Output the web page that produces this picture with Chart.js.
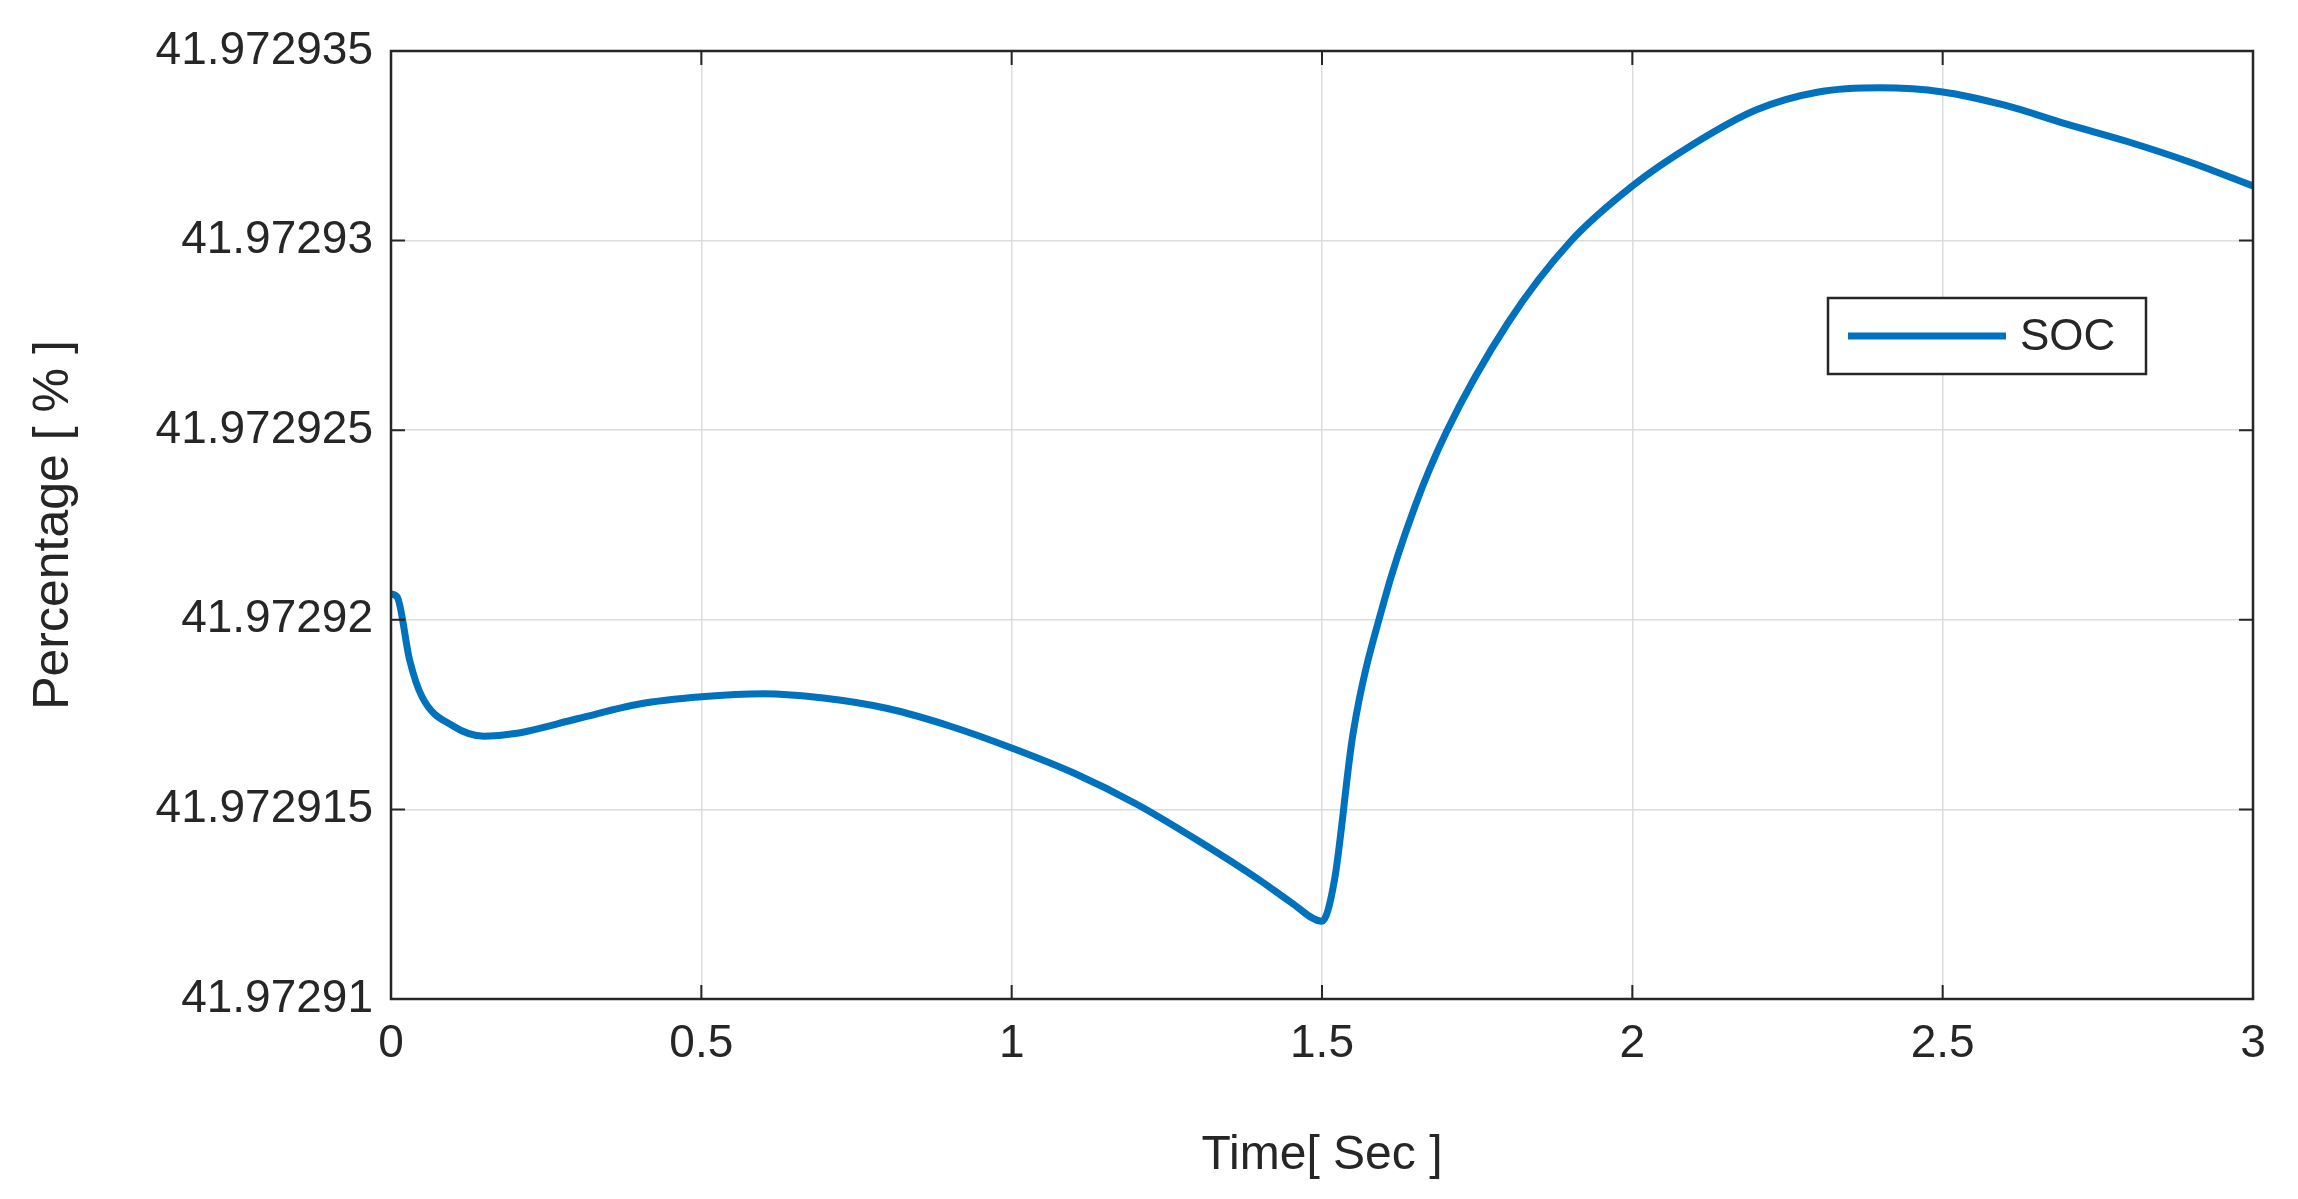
<!DOCTYPE html>
<html><head><meta charset="utf-8">
<script src="https://cdn.jsdelivr.net/npm/chart.js@4"></script>
<style>html,body{margin:0;padding:0;background:#fff;overflow:hidden}</style>
</head><body>
<canvas id="c" width="2298" height="1199" style="width:2298px;height:1199px"></canvas>
<script>
const timeSec = [0,0.01,0.03,0.05,0.1,0.15,0.2,0.3,0.4,0.5,0.6,0.7,0.8,0.9,1.0,1.1,1.2,1.3,1.4,1.45,1.5,1.52,1.55,1.6,1.65,1.7,1.8,1.9,2.0,2.1,2.2,2.3,2.4,2.5,2.6,2.7,2.8,2.9,3.0];
const socValues = [41.97292068,41.9729206,41.97291894,41.97291797,41.9729172,41.97291693,41.972917,41.97291739,41.97291778,41.97291797,41.97291805,41.97291793,41.97291766,41.9729172,41.97291662,41.97291596,41.97291515,41.97291418,41.97291313,41.97291255,41.97291205,41.97291313,41.972917,41.97292049,41.972923,41.97292494,41.97292784,41.97292997,41.97293144,41.97293256,41.97293345,41.97293392,41.97293403,41.97293392,41.97293357,41.97293307,41.9729326,41.97293206,41.97293144];
const yTicks = [41.97291,41.972915,41.97292,41.972925,41.97293,41.972935];
const yTickLabels = ['41.97291','41.972915','41.97292','41.972925','41.97293','41.972935'];
const xTicks = [0,0.5,1,1.5,2,2.5,3];
const xTickLabels = ['0','0.5','1','1.5','2','2.5','3'];
const seriesName = 'SOC';

const FONT = '"Liberation Sans", Arial, sans-serif';
const TXT = '#262626';
const LINE = '#0072BD';

const framePlugin = {
  id:'frame',
  afterDraw(chart){
    const {ctx, chartArea:a} = chart;
    ctx.save();
    ctx.strokeStyle = '#262626'; ctx.lineWidth = 2.5;
    ctx.strokeRect(a.left, a.top, a.right-a.left, a.bottom-a.top);
    // inner ticks
    const ys = chart.scales.y, xs = chart.scales.x;
    ctx.lineWidth = 2;
    yTicks.forEach(v=>{const y=ys.getPixelForValue(v);ctx.beginPath();ctx.moveTo(a.left,y);ctx.lineTo(a.left+14,y);ctx.moveTo(a.right,y);ctx.lineTo(a.right-14,y);ctx.stroke();});
    xTicks.forEach(v=>{const x=xs.getPixelForValue(v);ctx.beginPath();ctx.moveTo(x,a.bottom);ctx.lineTo(x,a.bottom-14);ctx.moveTo(x,a.top);ctx.lineTo(x,a.top+14);ctx.stroke();});
    // legend
    const bx=1828, by=298, bw=318, bh=76;
    ctx.fillStyle='#fff'; ctx.fillRect(bx,by,bw,bh);
    ctx.strokeStyle='#262626'; ctx.lineWidth=2.5; ctx.strokeRect(bx,by,bw,bh);
    ctx.strokeStyle=LINE; ctx.lineWidth=7;
    ctx.beginPath(); ctx.moveTo(bx+20,by+bh/2); ctx.lineTo(bx+178,by+bh/2); ctx.stroke();
    ctx.fillStyle=TXT; ctx.font='44px '+FONT; ctx.textBaseline='middle'; ctx.textAlign='left';
    ctx.fillText(seriesName, bx+192, by+bh/2+2);
    ctx.restore();
  }
};

new Chart(document.getElementById('c'), {
  type:'line',
  data:{datasets:[{label:seriesName, data: timeSec.map((t,i)=>({x:t,y:socValues[i]})), borderColor:LINE, borderWidth:7, pointRadius:0, tension:0.4, cubicInterpolationMode:'monotone', fill:false}]},
  options:{
    responsive:false, animation:false, devicePixelRatio:1,
    layout:{padding:{left:20,right:45,top:51,bottom:10}},
    plugins:{legend:{display:false}, tooltip:{enabled:false}},
    scales:{
      x:{type:'linear', min:0, max:3,
        afterBuildTicks(s){s.ticks = xTicks.map(v=>({value:v}));},
        afterFit(s){s.height=190;},
        grid:{color:'#dcdcdc', lineWidth:1.5, drawTicks:false},
        border:{display:false},
        ticks:{color:TXT, font:{family:FONT,size:46}, padding:18, maxRotation:0, callback:(v)=>xTickLabels[xTicks.indexOf(v)] ?? ''},
        title:{display:true, text:'Time[ Sec ]', color:TXT, font:{family:FONT,size:48}, padding:{top:6}}
      },
      y:{type:'linear', min:41.97291, max:41.972935,
        afterBuildTicks(s){s.ticks = yTicks.map(v=>({value:v}));},
        afterFit(s){s.width=371;},
        grid:{color:'#dcdcdc', lineWidth:1.5, drawTicks:false},
        border:{display:false},
        ticks:{color:TXT, font:{family:FONT,size:46}, padding:18, callback:(v)=>{let i=yTicks.findIndex(t=>Math.abs(t-v)<1e-9);return i>=0?yTickLabels[i]:'';}},
        title:{display:true, text:'Percentage [ % ]', color:TXT, font:{family:FONT,size:50}, padding:{bottom:6}}
      }
    }
  },
  plugins:[framePlugin]
});
</script>
</body></html>
